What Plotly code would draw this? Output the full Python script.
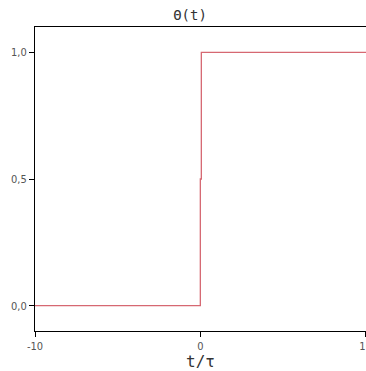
import plotly.graph_objects as go

# Heaviside step function sampled around the jump at t = 0
t_values = [-10, 0, 0, 0.06, 0.06, 10.1]
theta_values = [0, 0, 0.5, 0.5, 1, 1]

x_ticks = [-10, 0, 10]
x_tick_text = ["-10", "0", "10"]
y_ticks = [0.0, 0.5, 1.0]
y_tick_text = ["0,0", "0,5", "1,0"]

fig = go.Figure()
fig.add_trace(go.Scatter(
    x=t_values, y=theta_values, mode="lines",
    line=dict(color="#d66872", width=1.3),
    hoverinfo="skip", showlegend=False,
))

tick_font = dict(family="DejaVu Sans Condensed, Liberation Sans, sans-serif", size=11, color="#555555")

fig.update_layout(
    width=366, height=371,
    margin=dict(l=35, r=0, t=27, b=40),
    paper_bgcolor="white", plot_bgcolor="white",
    title=dict(
        text="\u0398(t)", x=190 / 366, xanchor="center",
        y=1 - 15 / 371, yanchor="middle",
        font=dict(family="DejaVu Sans Mono, Liberation Mono, monospace", size=14, color="#333333"),
    ),
    xaxis=dict(
        range=[-10, 10.02], tickvals=x_ticks, ticktext=x_tick_text,
        showgrid=False, zeroline=False, showline=True, linecolor="black", linewidth=1,
        mirror=True, ticks="outside", ticklen=5, tickcolor="black", tickfont=tick_font,
        ticklabeloverflow="allow",
        title=dict(text="t/\u03c4", standoff=2,
                   font=dict(family="DejaVu Sans Mono, Liberation Mono, monospace", size=16, color="#333333")),
        automargin=False,
    ),
    yaxis=dict(
        range=[-0.1, 1.1], tickvals=y_ticks, ticktext=y_tick_text,
        showgrid=False, zeroline=False, showline=True, linecolor="black", linewidth=1,
        ticks="outside", ticklen=5, tickcolor="black", tickfont=tick_font,
        automargin=False,
    ),
)

fig.write_html("out.html")
